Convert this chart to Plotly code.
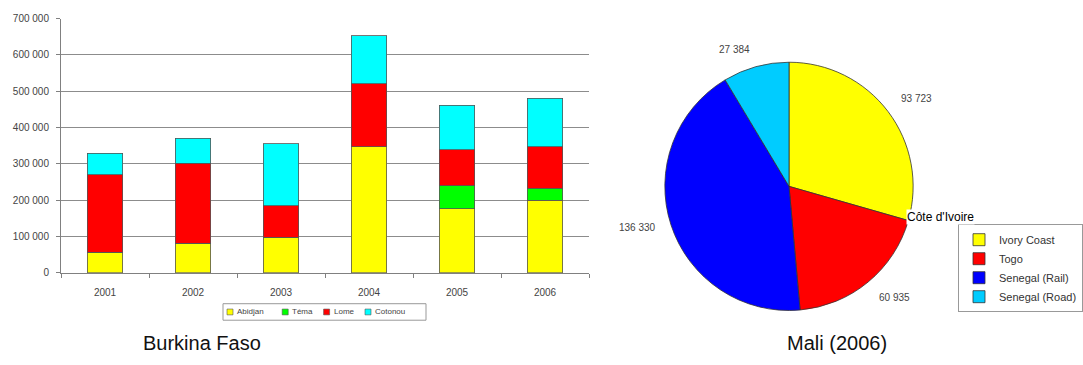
import math
import plotly.graph_objects as go

# Burkina Faso: transit volumes by port of entry (tonnes)
years = ["2001", "2002", "2003", "2004", "2005", "2006"]
abidjan = [56000, 81000, 98000, 347000, 176000, 200000]
tema = [0, 0, 0, 0, 63000, 32000]
lome = [214000, 221000, 86000, 174000, 100000, 115000]
cotonou = [59000, 69000, 171000, 132000, 122000, 134000]

bar_names = ["Abidjan", "Téma", "Lome", "Cotonou"]
bar_values = [abidjan, tema, lome, cotonou]
bar_colors = ["#FFFF00", "#00FF00", "#FF0000", "#00FFFF"]

# Mali 2006: transit volumes by corridor (tonnes)
mali_routes = ["Ivory Coast", "Togo", "Senegal (Rail)", "Senegal (Road)"]
mali_values = [93723, 60935, 136330, 27384]
mali_labels = ["93 723", "60 935", "136 330", "27 384"]
mali_colors = ["#FFFF00", "#FF0000", "#0000FF", "#00CCFF"]

W, H = 1083, 365
FONT = "Liberation Sans"

fig = go.Figure()

for name, vals, col in zip(bar_names, bar_values, bar_colors):
    fig.add_trace(go.Bar(
        x=years, y=vals, name=name,
        marker=dict(color=col, line=dict(color="#555555", width=0.8)),
        width=0.40, showlegend=False,
    ))

# pie geometry in pixels
pie_cx, pie_cy, pie_r = 789, 187, 128
fig.add_trace(go.Pie(
    labels=mali_routes, values=mali_values,
    textinfo="none",
    marker=dict(colors=mali_colors, line=dict(color="#333333", width=0.8)),
    sort=False, direction="clockwise", rotation=0,
    domain=dict(x=[(pie_cx - pie_r) / W, (pie_cx + pie_r) / W],
                y=[(H - pie_cy - pie_r) / H, (H - pie_cy + pie_r) / H]),
    legend="legend2", hoverinfo="label+value",
))

# value labels placed just outside each slice, at its mid angle
total = sum(mali_values)
cum = 0.0
label_r = pie_r * 1.08
for val, txt in zip(mali_values, mali_labels):
    mid = (cum + val / 2) / total * 2 * math.pi
    cum += val
    px = pie_cx + label_r * math.sin(mid)
    py = pie_cy - label_r * math.cos(mid)
    c = math.cos(mid)
    if abs(c) < 0.5:
        yanchor = "middle"
    else:
        yanchor = "bottom" if c > 0 else "top"
    fig.add_annotation(
        text=txt, x=px / W, y=(H - py) / H, xref="paper", yref="paper",
        xanchor="left" if math.sin(mid) >= 0 else "right", yanchor=yanchor,
        showarrow=False, font=dict(family=FONT, size=10, color="#444444"),
    )

# compact legend for the stacked bars
leg_x0, leg_x1, leg_y0, leg_y1 = 223, 426, 308, 325
fig.add_shape(type="rect", xref="paper", yref="paper",
              x0=leg_x0 / W, x1=leg_x1 / W, y0=(H - leg_y1) / H, y1=(H - leg_y0) / H,
              line=dict(color="#999999", width=1), fillcolor="white")
leg_cy = (leg_y0 + leg_y1) / 2
cursor = leg_x0 + 4
for name, col in zip(bar_names, bar_colors):
    fig.add_shape(type="rect", xref="paper", yref="paper",
                  x0=cursor / W, x1=(cursor + 6) / W,
                  y0=(H - leg_cy - 3) / H, y1=(H - leg_cy + 3) / H,
                  line=dict(color="#555555", width=0.6), fillcolor=col)
    fig.add_annotation(
        text=name, x=(cursor + 8) / W, y=(H - leg_cy) / H, xref="paper", yref="paper",
        xanchor="left", yanchor="middle", showarrow=False,
        font=dict(family=FONT, size=8, color="#444444"),
    )
    cursor += 8 + len(name) * 4.6 + 15

fig.update_layout(
    width=W, height=H,
    margin=dict(l=0, r=0, t=0, b=0),
    paper_bgcolor="white", plot_bgcolor="white",
    barmode="stack",
    separators=", ",
    font=dict(family=FONT, color="#333333"),
    xaxis=dict(
        domain=[61 / W, 589 / W],
        showline=True, linecolor="#808080", linewidth=1,
        ticks="outside", ticklen=4, tickcolor="#808080",
        tickson="boundaries", ticklabelstandoff=10,
        tickfont=dict(size=10, color="#444444"),
        showgrid=False,
    ),
    yaxis=dict(
        domain=[(H - 276) / H, (H - 14) / H],
        range=[0, 700000], dtick=100000, tickformat=",d",
        showline=True, linecolor="#808080", linewidth=1,
        ticks="outside", ticklen=4, tickcolor="#808080",
        ticklabelstandoff=5,
        showgrid=True, gridcolor="#8c8c8c", gridwidth=1,
        tickfont=dict(size=10, color="#444444"),
        zeroline=False,
    ),
    legend2=dict(
        x=958 / W, y=(H - 226) / H, xanchor="left", yanchor="top",
        bordercolor="#999999", borderwidth=1, bgcolor="white",
        font=dict(size=11, color="#333333"),
        itemwidth=30, tracegroupgap=0,
    ),
    showlegend=True,
)

fig.add_annotation(
    text="Côte d'Ivoire", x=906 / W, y=(H - 219) / H, xref="paper", yref="paper",
    xanchor="left", yanchor="middle", showarrow=False,
    bgcolor="white", font=dict(family=FONT, size=12, color="black"),
    borderpad=0,
)
caption_font = dict(family=FONT, size=20, color="#111111")
fig.add_annotation(
    text="Burkina Faso", x=202 / W, y=(H - 349) / H, xref="paper", yref="paper",
    xanchor="center", yanchor="middle", showarrow=False, font=caption_font,
)
fig.add_annotation(
    text="Mali (2006)", x=837 / W, y=(H - 349) / H, xref="paper", yref="paper",
    xanchor="center", yanchor="middle", showarrow=False, font=caption_font,
)

fig.write_html("out.html")
